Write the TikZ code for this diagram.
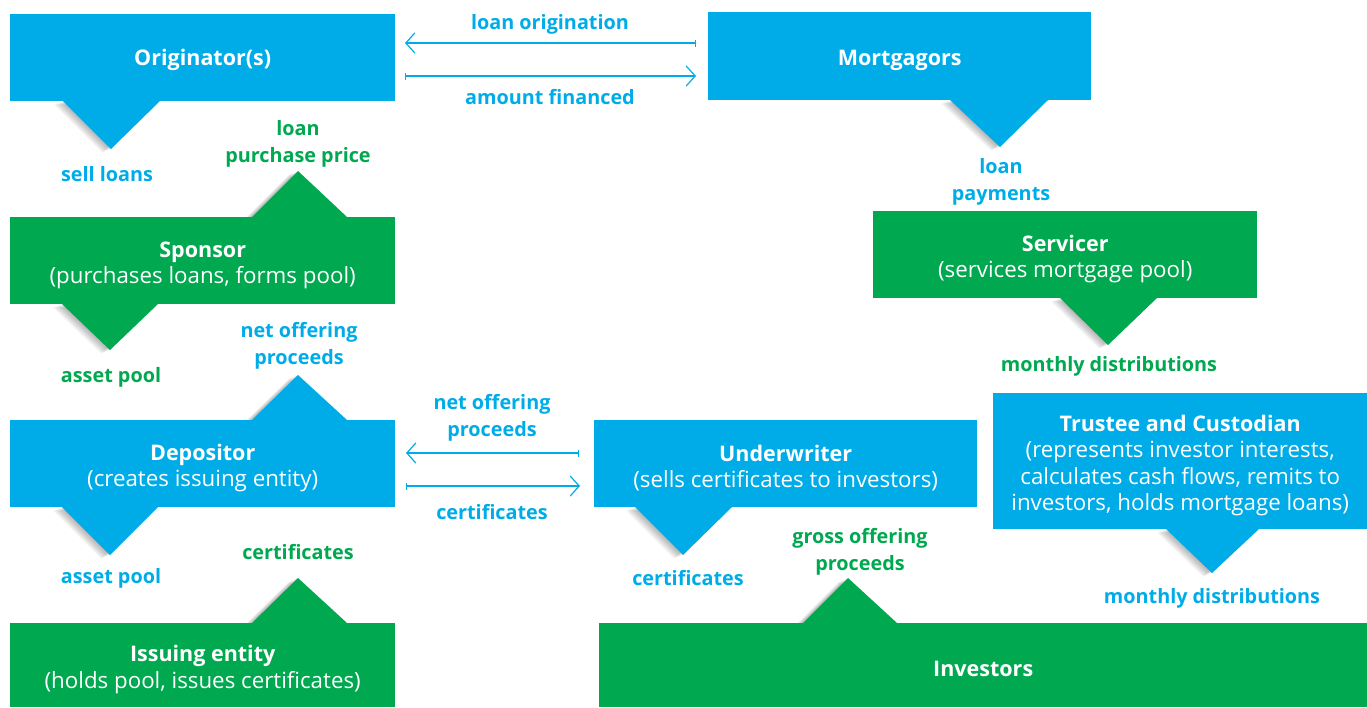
\documentclass[tikz,border=0pt]{standalone}
\usepackage{fontspec}
\setmainfont{Open Sans}
\usetikzlibrary{arrows.meta}
\definecolor{cblue}{RGB}{0,172,232}
\definecolor{cgreen}{RGB}{0,168,80}
\newcommand\mytri[4]{%
  \foreach \k in {1,...,9}{%
    \fill[black,opacity=0.035] ([xshift=-\k pt,yshift=-0.4*\k pt]#2) -- ([xshift=-\k pt,yshift=-0.4*\k pt]#3) -- ([xshift=-\k pt,yshift=-0.4*\k pt]#4) -- cycle;}%
  \fill[#1] (#2) -- (#3) -- (#4) -- cycle;}
\newcommand\ttl[1]{{\fontsize{21.5}{26}\selectfont\bfseries #1}}
\begin{document}
\begin{tikzpicture}[x=1pt,y=-1pt,
  box/.style={anchor=north west,inner sep=0pt},
  bbox/.style={box,fill=cblue},
  gbox/.style={box,fill=cgreen},
  txt/.style={inner sep=0pt,text=white,align=center,font=\fontsize{22.3}{26.5}\selectfont},
  blab/.style={text=cblue,align=center,font=\bfseries\fontsize{19.8}{27}\selectfont},
  glab/.style={text=cgreen,align=center,font=\bfseries\fontsize{19.8}{27}\selectfont},
  flow/.style={cblue,line width=1.3pt,{Straight Barb[length=9pt,width=20pt,line width=1.2pt]}-{Bar[width=7pt,line width=1.2pt]}},
]
\useasboundingbox (0,0) rectangle (1367,707);
% triangles (tabs) with soft shadows
\mytri{cblue}{63,101}{160,101}{111,149}
\mytri{cgreen}{252,217}{347,217}{298,171}
\mytri{cgreen}{62,304}{158,304}{110,350}
\mytri{cblue}{252,420}{347,420}{298,375}
\mytri{cblue}{62,507}{158,507}{110,555}
\mytri{cgreen}{252,623}{347,623}{298,578}
\mytri{cblue}{950,100}{1048,100}{1000,147}
\mytri{cgreen}{1060,298}{1157,298}{1108,345}
\mytri{cblue}{1166,529}{1259,529}{1212,573}
\mytri{cblue}{635,507}{732,507}{683,555}
\mytri{cgreen}{803,623}{897,623}{848,578}
% boxes
\node[bbox,minimum width=385pt,minimum height=87pt] (orig) at (10,14) {};
\node[bbox,minimum width=383pt,minimum height=88pt] (mort) at (708,12) {};
\node[gbox,minimum width=385pt,minimum height=87pt] (spon) at (10,217) {};
\node[gbox,minimum width=384pt,minimum height=87pt] (serv) at (873,211) {};
\node[bbox,minimum width=385pt,minimum height=87pt] (depo) at (10,420) {};
\node[bbox,minimum width=383pt,minimum height=87pt] (undw) at (594,420) {};
\node[bbox,minimum width=374pt,minimum height=136pt] (trus) at (993,393) {};
\node[gbox,minimum width=385pt,minimum height=84pt] (issu) at (10,623) {};
\node[gbox,minimum width=768pt,minimum height=84pt] (inve) at (599,623) {};
% box texts
\node[txt] (origT) at ([yshift=-2pt]orig.center) {\ttl{Originator(s)}};
\node[txt] (mortT) at ([yshift=-4pt]mort.center) {\ttl{Mortgagors}};
\node[txt] (sponT) at ([yshift=-4.5pt]spon.center) {\ttl{Sponsor}\\(purchases loans, forms pool)};
\node[txt] (servT) at ([yshift=-4.5pt]serv.center) {\ttl{Servicer}\\(services mortgage pool)};
\node[txt] (depoT) at ([yshift=-4.5pt]depo.center) {\ttl{Depositor}\\(creates issuing entity)};
\node[txt] (undwT) at ([yshift=-4.5pt]undw.center) {\ttl{Underwriter}\\(sells certificates to investors)};
\node[txt] (trusT) at ([yshift=-4.5pt]trus.center) {\ttl{Trustee and Custodian}\\(represents investor interests,\\calculates cash flows, remits to\\investors, holds mortgage loans)};
\node[txt] (issuT) at ([yshift=-4.5pt]issu.center) {\ttl{Issuing entity}\\(holds pool, issues certificates)};
\node[txt] (inveT) at ([yshift=-4pt]inve.center) {\ttl{Investors}};
% labels
\node[blab] (l1) at (107,174) {sell loans};
\node[glab] (l2) at (298,144) {loan\\purchase price};
\node[glab] (l3) at (111,377) {asset pool};
\node[blab] (l4) at (299,345.5) {net offering\\proceeds};
\node[blab] (l5) at (111,578) {asset pool};
\node[glab] (l6) at (298,552) {certificates};
\node[blab] (l7) at (1001,182) {loan\\payments};
\node[glab] (l8) at (1109,366) {monthly distributions};
\node[blab] (l9) at (1212,598) {monthly distributions};
\node[blab] (l10) at (688,578.5) {certificates};
\node[glab] (l11) at (860,552) {gross offering\\proceeds};
\node[blab] (l12) at (550,24) {loan origination};
\node[blab] (l13) at (550,97.5) {amount financed};
\node[blab] (l14) at (492,417.5) {net offering\\proceeds};
\node[blab] (l15) at (492,512.5) {certificates};
% arrows
\coordinate (a1s) at (696,43); \coordinate (a1e) at (405,43);
\coordinate (a2s) at (405,76); \coordinate (a2e) at (696,76);
\coordinate (a3s) at (579,453); \coordinate (a3e) at (406,453);
\coordinate (a4s) at (406,486); \coordinate (a4e) at (580,486);
\draw[flow] (a1e) -- (a1s);
\draw[flow] (a2e) -- (a2s);
\draw[flow] (a3e) -- (a3s);
\draw[flow] (a4e) -- (a4s);
\end{tikzpicture}
\end{document}
